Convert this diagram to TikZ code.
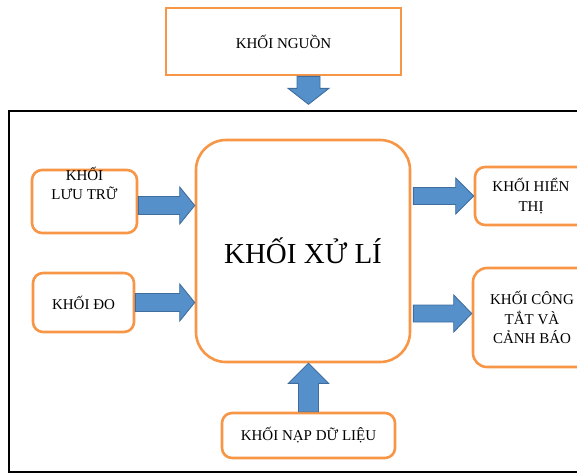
\documentclass[tikz,border=0pt]{standalone}
\usepackage{fontspec}
\setmainfont{Liberation Serif}
\usetikzlibrary{calc}

\definecolor{boxorange}{HTML}{F79646}
\definecolor{arrowblue}{HTML}{5690CB}
\definecolor{arrowedge}{HTML}{3F6E9E}

\tikzset{
  blockbox/.style={draw=boxorange, line width=2.6pt, fill=white, inner sep=0pt,
    align=center, font=\fontsize{15}{19.5}\selectfont},
  roundbox/.style={blockbox, rounded corners=10pt},
  arrowfill/.style={fill=arrowblue, draw=arrowedge, line width=0.9pt, line join=miter},
  boxtext/.style={anchor=north, inner sep=0pt, yshift=2pt, align=center,
    font=\fontsize{15}{19.5}\selectfont}
}

% block arrow: start, tip, shaft half width, head half width, head length
\newcommand{\blockarrow}[5]{%
  \coordinate (ah) at ($(#2)!#5!(#1)$);
  \draw[arrowfill] ($(#1)!#3!90:(#2)$) -- ($(ah)!#3!90:(#2)$) -- ($(ah)!#4!90:(#2)$)
    -- (#2) -- ($(ah)!#4!-90:(#2)$) -- ($(ah)!#3!-90:(#2)$) -- ($(#1)!#3!-90:(#2)$) -- cycle;
}

\begin{document}
\begin{tikzpicture}[x=1pt, y=-1pt]
\useasboundingbox (0,0) rectangle (577,475);

% outer frame
\draw[line width=2.5pt] (9,111) rectangle (610,472);

% blocks
\node[blockbox, minimum width=235pt, minimum height=67pt] (nguon) at (283.5,41.5) {KHỐI NGUỒN};
\node[blockbox, rounded corners=30pt, minimum width=214pt, minimum height=222pt,
  font=\fontsize{29}{34}\selectfont] (xuli) at (303,251) {KHỐI XỬ LÍ};
\node[roundbox, minimum width=105pt, minimum height=63pt,
  label={[boxtext]north:KHỐI\\LƯU TRỮ}] (luutru) at (84.5,201.5) {};
\node[roundbox, minimum width=101pt, minimum height=59pt] (do) at (83.5,302.5) {KHỐI ĐO};
\node[roundbox, minimum width=112pt, minimum height=58pt] (hienthi) at (531,196) {KHỐI HIỂN\\THỊ};
\node[roundbox, minimum width=118pt, minimum height=99pt, rounded corners=14pt] (congtat) at (532,317.5)
  {KHỐI CÔNG\\TẮT VÀ\\CẢNH BÁO};
\node[roundbox, minimum width=173pt, minimum height=45pt] (nap) at (308.5,435.5) {KHỐI NẠP DỮ LIỆU};

% arrow ends
\coordinate (nguonout) at (nguon.south -| nap.center);
\coordinate (nguontip) at ($(nguonout)+(0,28)$);
\coordinate (luutruout) at ([yshift=-4pt]luutru.east);
\coordinate (luutrutip) at (luutruout -| xuli.west);
\coordinate (dotip) at (do.east -| xuli.west);
\coordinate (hienthiout) at ([xshift=2pt]xuli.east |- hienthi.west);
\coordinate (congtatin) at ([yshift=4pt]congtat.west);
\coordinate (congtatout) at ([xshift=2pt]xuli.east |- congtatin);
\coordinate (naptip) at (nap.north |- xuli.south);

\blockarrow{nguonout}{nguontip}{11.5pt}{20.5pt}{16pt}
\blockarrow{luutruout}{luutrutip}{9pt}{18.5pt}{15pt}
\blockarrow{do.east}{dotip}{9pt}{18.5pt}{15pt}
\blockarrow{hienthiout}{hienthi.west}{8.5pt}{18pt}{18pt}
\blockarrow{congtatout}{congtatin}{8.5pt}{18.5pt}{18pt}
\blockarrow{nap.north}{naptip}{10pt}{20pt}{20pt}
\end{tikzpicture}
\end{document}
